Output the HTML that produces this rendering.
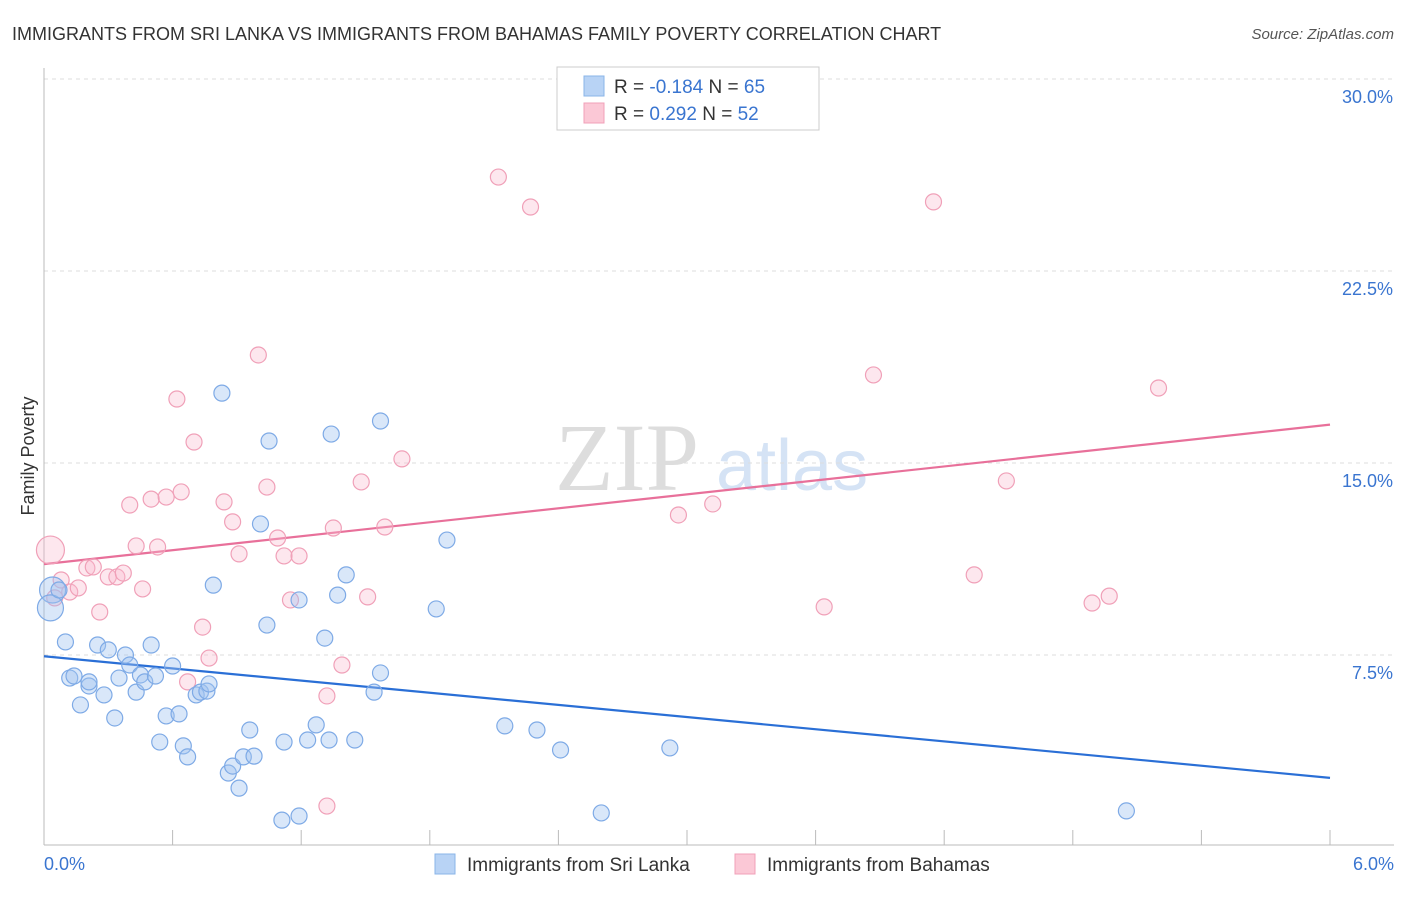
<!DOCTYPE html>
<html><head><meta charset="utf-8"><style>
body{margin:0;background:#fff;font-family:"Liberation Sans",sans-serif;}
</style></head><body>
<svg width="1406" height="892" xmlns="http://www.w3.org/2000/svg" font-family="Liberation Sans, sans-serif">
<text x="12" y="40" font-size="18" fill="#333">IMMIGRANTS FROM SRI LANKA VS IMMIGRANTS FROM BAHAMAS FAMILY POVERTY CORRELATION CHART</text>
<text x="1394" y="39" font-size="15" fill="#555" text-anchor="end" font-style="italic">Source: ZipAtlas.com</text>
<g><text x="555" y="490" font-size="96" fill="#ddd" font-family="Liberation Serif, serif">ZIP</text><text x="716" y="490" font-size="72" fill="#d5e3f5">atlas</text></g>
<g id="grid"></g><g id="axes"></g><g id="lines"></g><g id="pts"></g>
<text transform="translate(34,456) rotate(-90)" font-size="18" fill="#333" text-anchor="middle">Family Poverty</text>
<g>
<rect x="557" y="67" width="262" height="63" fill="#fff" stroke="#ccc"/>
<rect x="584" y="76" width="20" height="20" fill="#b8d3f5" stroke="#8ab4e8"/>
<rect x="584" y="103" width="20" height="20" fill="#fbc8d6" stroke="#f0a0b8"/>
<text x="614" y="93" font-size="19" fill="#333">R = <tspan fill="#3a75d0">-0.184</tspan>   N = <tspan fill="#3a75d0">65</tspan></text>
<text x="614" y="120" font-size="19" fill="#333">R =  <tspan fill="#3a75d0">0.292</tspan>   N = <tspan fill="#3a75d0">52</tspan></text>
</g>
<g>
<rect x="435" y="854" width="20" height="20" fill="#b8d3f5" stroke="#8ab4e8"/>
<text x="467" y="871" font-size="19" fill="#333">Immigrants from Sri Lanka</text>
<rect x="735" y="854" width="20" height="20" fill="#fbc8d6" stroke="#f0a0b8"/>
<text x="767" y="871" font-size="19" fill="#333">Immigrants from Bahamas</text>
</g>
</svg>
<script>
const yTicks=[7.5,15.0,22.5,30.0];
const yTickLabels=["7.5%","15.0%","22.5%","30.0%"];
const xTickLabels=["0.0%","6.0%"];
const blueX=[0.04,0.03,0.07,0.10,0.12,0.14,0.21,0.21,0.17,0.25,0.28,0.30,0.33,0.35,0.38,0.40,0.43,0.45,0.47,0.50,0.52,0.54,0.57,0.60,0.63,0.65,0.67,0.71,0.73,0.76,0.77,0.79,0.83,0.86,0.88,0.91,0.93,0.96,0.98,1.01,1.04,1.05,1.11,1.12,1.19,1.19,1.23,1.27,1.31,1.33,1.34,1.37,1.41,1.45,1.54,1.57,1.57,1.88,1.83,2.15,2.30,2.41,2.60,2.92,5.05];
const blueY=[10.04,9.34,10.04,8.01,6.60,6.68,6.29,6.45,5.55,7.89,5.94,7.70,5.04,6.60,7.50,7.11,6.05,6.72,6.45,7.89,6.68,4.10,5.12,7.07,5.20,3.95,3.52,5.94,6.05,6.09,6.37,10.23,17.73,2.89,3.16,2.30,3.52,4.57,3.55,12.62,8.67,15.86,1.05,4.10,9.65,1.21,4.18,4.77,8.16,4.18,16.13,9.84,10.63,4.18,6.05,6.80,16.64,11.99,9.30,4.73,4.57,3.79,1.33,3.87,1.41];
const pinkX=[0.03,0.05,0.08,0.12,0.16,0.20,0.23,0.26,0.30,0.34,0.37,0.40,0.43,0.46,0.50,0.53,0.57,0.62,0.64,0.67,0.70,0.74,0.77,0.84,0.88,0.91,1.00,1.04,1.09,1.12,1.15,1.19,1.32,1.32,1.35,1.39,1.48,1.51,1.59,1.67,2.12,2.27,2.96,3.12,3.64,3.87,4.15,4.34,4.49,4.89,4.97,5.20];
const pinkY=[11.60,9.73,10.43,9.96,10.12,10.90,10.94,9.18,10.55,10.55,10.70,13.36,11.76,10.08,13.59,11.72,13.67,17.50,13.87,6.45,15.82,8.59,7.38,13.48,12.70,11.45,19.22,14.06,12.07,11.37,9.65,11.37,5.90,1.60,12.46,7.11,14.26,9.77,12.50,15.16,26.17,25.00,12.97,13.40,9.38,18.44,25.20,10.63,14.30,9.53,9.80,17.93];
const blueTrend=[7.45,2.7];
const pinkTrend=[11.05,16.5];
const NS="http://www.w3.org/2000/svg";
const X=v=>44+v/6*1286, Y=v=>847-v/7.5*192;
function mk(t,a,p){const e=document.createElementNS(NS,t);for(const k in a)e.setAttribute(k,a[k]);document.getElementById(p).appendChild(e);return e;}
yTicks.forEach((t,i)=>{
 const g=mk('line',{x1:44,x2:1394,y1:Y(t),y2:Y(t),stroke:'#ddd','stroke-dasharray':'4,4'},'grid');
 
 
 const l=mk('text',{x:1393,y:Y(t)+24,'font-size':18,fill:'#3a75d0','text-anchor':'end'},'axes');
 l.textContent=yTickLabels[i];
 
 
});
const ax=mk('line',{x1:44,x2:1394,y1:845,y2:845,stroke:'#bbb'},'axes');


const ay=mk('line',{x1:44,x2:44,y1:68,y2:845,stroke:'#bbb'},'axes');


for(let i=0;i<=10;i++){const t=mk('line',{x1:X(i*0.6),x2:X(i*0.6),y1:830,y2:845,stroke:'#bbb'},'axes');
 
 }
[[0,'start',44],[1,'end',1394]].forEach(([i,a,x])=>{const l=mk('text',{x:x,y:870,'font-size':18,fill:'#3a75d0','text-anchor':a},'axes');l.textContent=xTickLabels[i];
 
 });
function pts(xs,ys,fill,stroke,name){xs.forEach((x,i)=>{const c=mk('circle',{cx:X(x),cy:Y(ys[i]),r:i<2&&name=='sri-lanka-point'?13:(i==0?14:8),fill:fill,stroke:stroke,'stroke-width':1.2},'pts');
 
 });}
pts(pinkX,pinkY,'rgba(248,185,205,0.35)','#f0a0b8','bahamas-point');
pts(blueX,blueY,'rgba(160,195,240,0.4)','#7eaae6','sri-lanka-point');
const bl=mk('line',{x1:X(0),y1:Y(blueTrend[0]),x2:X(6),y2:Y(blueTrend[1]),stroke:'#2a6fd6','stroke-width':2.2},'lines');


const pl=mk('line',{x1:X(0),y1:Y(pinkTrend[0]),x2:X(6),y2:Y(pinkTrend[1]),stroke:'#e8709a','stroke-width':2.2},'lines');


</script>
</body></html>
